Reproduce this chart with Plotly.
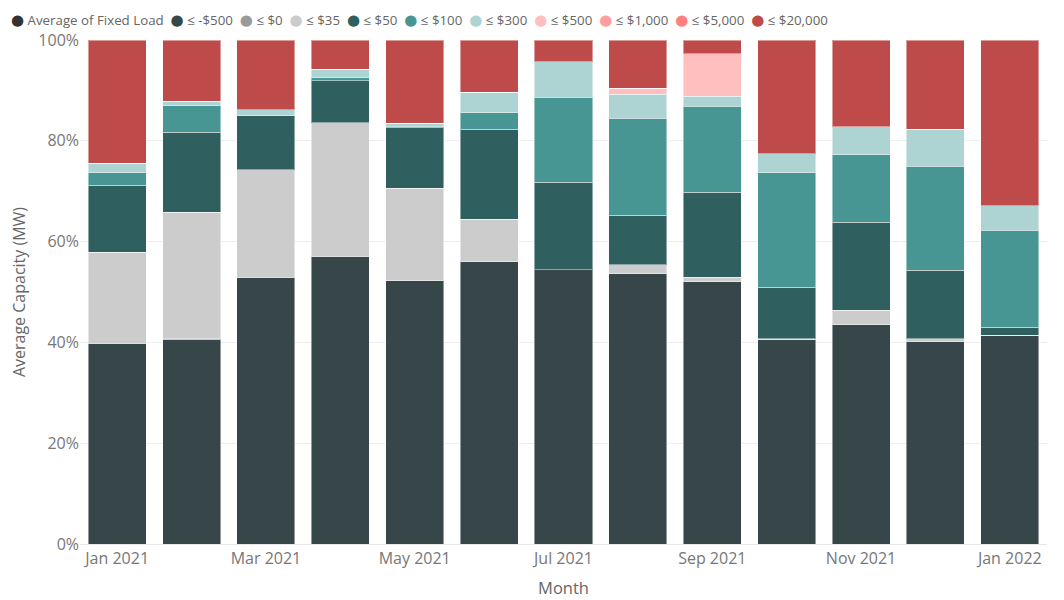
import plotly.graph_objects as go

months = ["Jan 2021", "Feb 2021", "Mar 2021", "Apr 2021", "May 2021", "Jun 2021", "Jul 2021",
          "Aug 2021", "Sep 2021", "Oct 2021", "Nov 2021", "Dec 2021", "Jan 2022"]
tick_months = ["Jan 2021", "Mar 2021", "May 2021", "Jul 2021", "Sep 2021", "Nov 2021", "Jan 2022"]
y_ticks = [0, 20, 40, 60, 80, 100]

# share of capacity per price band (%)
le_neg500 = [39.8, 40.6, 52.9, 57.1, 52.2, 56.0, 54.4, 53.4, 52.0, 40.5, 43.5, 40.2, 41.4]
le_0 = [0, 0.2, 0, 0, 0, 0, 0, 0, 0, 0, 0, 0, 0]
le_35 = [18.1, 25.0, 21.4, 26.5, 18.4, 8.4, 0, 1.8, 0.9, 0.2, 2.9, 0.5, 0]
le_50 = [13.3, 15.9, 10.8, 8.3, 12.0, 17.9, 17.4, 9.8, 16.9, 10.2, 17.4, 13.6, 1.6]
le_100 = [2.5, 5.3, 0, 0.6, 0.3, 3.3, 16.8, 19.1, 17.1, 22.8, 13.4, 20.7, 19.3]
le_300 = [1.8, 0.8, 1.1, 1.7, 0.6, 4.0, 7.1, 4.8, 1.9, 3.7, 5.6, 7.3, 4.8]
le_500 = [0, 0, 0, 0, 0, 0, 0, 1.2, 8.5, 0, 0, 0, 0]
le_1000 = [0, 0, 0, 0, 0, 0, 0, 0, 0, 0, 0, 0, 0]
le_5000 = [0, 0, 0, 0, 0, 0, 0, 0, 0, 0, 0, 0, 0]
le_20000 = [24.5, 12.2, 13.8, 5.8, 16.5, 10.4, 4.3, 9.5, 2.7, 22.6, 17.2, 17.7, 32.9]

bands = [
    ("≤ -$500", le_neg500, "#374649"),
    ("≤ $0", le_0, "#9a9a9a"),
    ("≤ $35", le_35, "#cccccc"),
    ("≤ $50", le_50, "#2f5f5e"),
    ("≤ $100", le_100, "#489693"),
    ("≤ $300", le_300, "#add3d2"),
    ("≤ $500", le_500, "#ffbfbf"),
    ("≤ $1,000", le_1000, "#ff9e9e"),
    ("≤ $5,000", le_5000, "#ff7f7f"),
    ("≤ $20,000", le_20000, "#bf4a4a"),
]

fig = go.Figure()
for name, vals, col in bands:
    fig.add_trace(go.Bar(x=months, y=vals, name=name, marker_color=col,
                         marker_line=dict(color="rgba(255,255,255,0.45)", width=1)))

# power bi style legend line: dot + label, one text run
legend_items = [("Average of Fixed Load", "#333333")] + [(b[0], b[2]) for b in bands]
legend_txt = "  ".join(
    "<span style='color:%s;font-size:15px'>●</span> <span style='color:#666666'>%s</span>" % (c, n)
    for n, c in legend_items)
fig.add_annotation(text=legend_txt, xref="paper", yref="paper", x=-0.073, y=1.0,
                   xanchor="left", yanchor="middle", yshift=21, showarrow=False,
                   font=dict(size=13.3, color="#666666"))

fig.update_layout(
    barmode="stack",
    barnorm="percent",
    bargap=0.22,
    width=1048,
    height=592,
    paper_bgcolor="white",
    plot_bgcolor="white",
    font=dict(family="Open Sans, DejaVu Sans, sans-serif", color="#666666", size=13),
    margin=dict(l=72, r=9, t=32, b=56),
    showlegend=False,
)
fig.update_xaxes(
    type="category",
    tickvals=tick_months,
    ticktext=tick_months,
    tickfont=dict(size=16, color="#777777"),
    title=dict(text="Month", font=dict(size=16.5, color="#666666"), standoff=14),
    showline=True, linecolor="#e6e6e6",
    showgrid=False,
    automargin=False,
)
fig.update_yaxes(
    range=[0, 100],
    tickvals=y_ticks,
    ticktext=["%d%%" % v for v in y_ticks],
    tickfont=dict(size=16, color="#777777"),
    title=dict(text="Average Capacity (MW)", font=dict(size=16, color="#666666"), standoff=14),
    gridcolor="#eeeeee",
    zeroline=False,
    automargin=False,
)

fig.write_html("out.html")
